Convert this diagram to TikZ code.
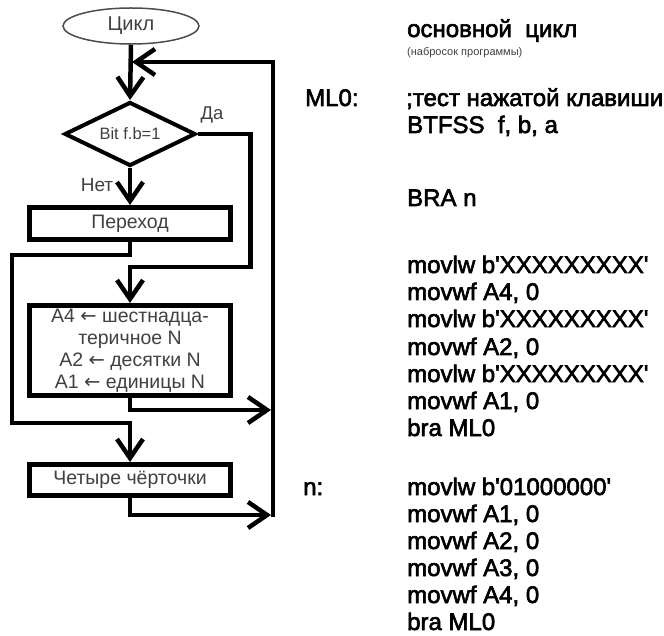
\documentclass[tikz,border=0pt]{standalone}
\usepackage{fontspec}
\setmainfont{Liberation Sans}
\newfontface\codefont{Liberation Sans}[FakeBold=2.5]
\newfontfamily\symfont{DejaVu Sans}
\newcommand{\larr}{{\symfont ←}}
\usetikzlibrary{arrows.meta,shapes.geometric}
\begin{document}
\begin{tikzpicture}[x=1pt,y=-1pt,
  line join=miter,
  conn/.style={line width=4.5pt, -{Straight Barb[length=19pt,width=26pt]}},
  box/.style={draw, line width=5pt, minimum width=201pt, inner sep=0pt,
    text=black!75, font=\fontsize{19.5}{22}\selectfont, align=center},
  lbl/.style={inner sep=0pt, text=black!75, font=\fontsize{19}{22}\selectfont},
  code/.style={anchor=base west, inner sep=0pt, font=\codefont\fontsize{24}{27}\selectfont, text=black}
]
\useasboundingbox (0,0) rectangle (664,636);

% ---------- flowchart ----------
\node[ellipse, draw=black!70, line width=1.5pt, minimum width=136pt, minimum height=36pt,
      inner sep=0pt, text=black!75, font=\fontsize{20}{22}\selectfont] (start) at (131,26) {Цикл};
\node[diamond, draw, line width=4pt, aspect=2, minimum width=131pt, minimum height=64pt,
      inner sep=0pt, text=black!75, font=\fontsize{16.5}{20}\selectfont] (dec) at (130,134) {Bit f.b=1};
\node[box, minimum height=32pt] (jump) at (130,223.5) {Переход};
\node[box, minimum height=90pt] (calc) at (130,350.5)
  {A4 \larr{} шестнадца-\\теричное N\\A2 \larr{} десятки N\\A1 \larr{} единицы N};
\node[box, minimum height=31pt] (dash) at (130,480) {Четыре чёрточки};

\node[lbl, font=\fontsize{18.5}{20}\selectfont] (yes) at (212,115) {Да};
\node[lbl] (no) at (97,185) {Нет};

\coordinate (rtop) at (273,62);
\coordinate (rbot) at (273,517);
\coordinate (join) at (132,62);
\coordinate (rmid) at (271,410);
\coordinate (rlow) at (271,515);

\draw[conn] (start.south) -- (dec.north);
\draw[conn] (rbot) -- (rtop) -- (join);
\draw[conn] (dec.east) -- ++(53,0) |- ([yshift=36pt]calc.north) -- (calc.north);
\draw[conn] (dec.south) -- (jump.north);
\draw[conn] (jump.south) -- ++(0,13) -- ++(-118,0) -- ++(0,168) -| (dash.north);
\draw[conn] (calc.south) |- (rmid);
\draw[conn] (dash.south) |- (rlow);

% ---------- program text ----------
\node[code] (title) at (407,37) {основной\ \ цикл};
\node[anchor=base west, inner sep=0pt, text=black!75, font=\fontsize{11}{13}\selectfont] (sub) at (407,56) {(набросок программы)};
\node[code] (ml) at (305,106) {ML0:};
\node[code] (c1) at (406,106) {;тест нажатой клавиши};
\node[code] (c2) at (407,133) {BTFSS\ \ f, b, a};
\node[code] (c3) at (407,206) {BRA n};

\node[code] (d1) at (407,273) {movlw b'XXXXXXXXX'};
\node[code] (d2) at (407,300) {movwf A4, 0};
\node[code] (d3) at (407,327) {movlw b'XXXXXXXXX'};
\node[code] (d4) at (407,355) {movwf A2, 0};
\node[code] (d5) at (407,382) {movlw b'XXXXXXXXX'};
\node[code] (d6) at (407,409) {movwf A1, 0};
\node[code] (d7) at (407,436) {bra ML0};

\node[code] (nl) at (303,495) {n:};
\node[code] (e1) at (407,495) {movlw b'01000000'};
\node[code] (e2) at (407,522) {movwf A1, 0};
\node[code] (e3) at (407,549) {movwf A2, 0};
\node[code] (e4) at (407,576) {movwf A3, 0};
\node[code] (e5) at (407,603) {movwf A4, 0};
\node[code] (e6) at (407,630) {bra ML0};
\end{tikzpicture}
\end{document}
